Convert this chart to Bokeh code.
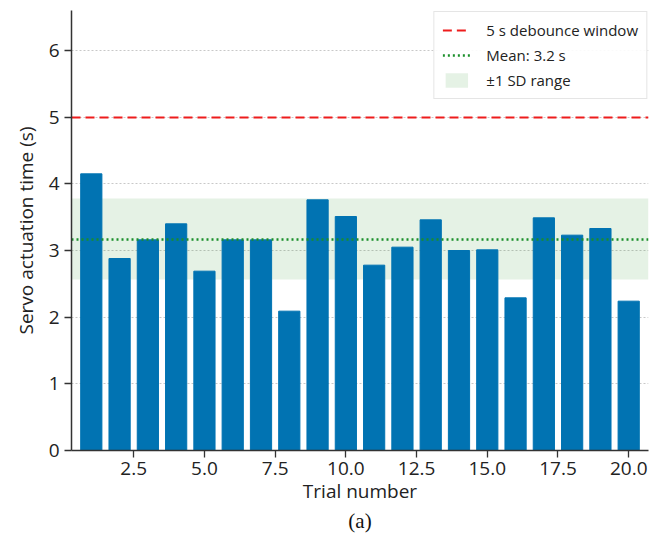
from bokeh.plotting import figure
from bokeh.models import Range1d, FixedTicker, PrintfTickFormatter, Legend, LegendItem, Title
from bokeh.embed import file_html
from bokeh.resources import INLINE

# ---- data ----
trials = list(range(1, 21))
actuation_times = [4.15, 2.88, 3.16, 3.40, 2.69, 3.16, 3.16, 2.09, 3.76, 3.51,
                   2.78, 3.05, 3.46, 3.00, 3.01, 2.29, 3.49, 3.23, 3.33, 2.24]
debounce_window = 5.0
mean_time = 3.17
sd_time = 0.61
x_ticks = [2.5, 5.0, 7.5, 10.0, 12.5, 15.0, 17.5, 20.0]
y_ticks = [0, 1, 2, 3, 4, 5, 6]
label_debounce = "5 s debounce window"
label_mean = "Mean: 3.2 s"
label_sd = "\u00b11 SD range"

FONT = "Open Sans"

p = figure(width=654, height=533, output_backend="svg", toolbar_location=None,
           x_range=Range1d(0.3, 20.7), y_range=Range1d(0, 6.6),
           min_border_left=71, min_border_right=6, min_border_top=10, min_border_bottom=83)
p.outline_line_color = None
p.background_fill_color = "white"

# grid
p.xgrid.grid_line_color = None
p.ygrid.grid_line_color = "#c8c8c8"
p.ygrid.grid_line_dash = "2 2"
p.ygrid.grid_line_width = 1

# SD band
band = p.hstrip(y0=[mean_time - sd_time], y1=[mean_time + sd_time],
                fill_color="green", fill_alpha=0.1, line_alpha=0)
# bars
p.vbar(x=trials, top=actuation_times, width=0.75, fill_color="#0173B2", line_color="#0173B2")
# mean line
mean_r = p.hspan(y=[mean_time], line_color="#1a8f2a", line_dash="2 3", line_width=2.5)
# debounce line
deb_r = p.hspan(y=[debounce_window], line_color="#ee1c1c", line_dash="9 5", line_width=2.2)

legend = Legend(items=[LegendItem(label=label_debounce, renderers=[deb_r]),
                       LegendItem(label=label_mean, renderers=[mean_r]),
                       LegendItem(label=label_sd, renderers=[band])],
                location="top_right", margin=1, padding=8, spacing=5,
                glyph_width=28, glyph_height=18, label_standoff=16,
                label_text_font=FONT, label_text_font_size="15px", label_text_color="#222222",
                border_line_color="#cccccc", border_line_width=1,
                background_fill_alpha=0.9)
p.add_layout(legend)

# axes
for ax in (p.xaxis[0], p.yaxis[0]):
    ax.axis_line_color = "#333333"
    ax.axis_line_width = 1.5
    ax.major_tick_line_color = "#333333"
    ax.major_tick_line_width = 1.3
    ax.major_tick_in = 0
    ax.major_tick_out = 7
    ax.minor_tick_line_color = None
    ax.major_label_text_font = FONT
    ax.major_label_text_font_size = "19px"
    ax.major_label_text_color = "#222222"
    ax.axis_label_text_font = FONT
    ax.axis_label_text_font_size = "19px"
    ax.axis_label_text_font_style = "normal"
    ax.axis_label_text_color = "#222222"

p.xaxis.ticker = FixedTicker(ticks=x_ticks)
p.xaxis.formatter = PrintfTickFormatter(format="%.1f")
p.xaxis.axis_label = "Trial number"
p.xaxis.major_label_standoff = 4
p.xaxis.axis_label_standoff = 0

p.yaxis.ticker = FixedTicker(ticks=y_ticks)
p.yaxis.axis_label = "Servo actuation time (s)"
p.yaxis.major_label_standoff = 5
p.yaxis.axis_label_standoff = 7

cap = Title(text="(a)", align="center", text_font="Liberation Serif", text_font_size="21px",
            text_font_style="normal", text_color="#111111", standoff=0)
p.add_layout(cap, "below")

open("out.html", "w").write(file_html(p, INLINE))
